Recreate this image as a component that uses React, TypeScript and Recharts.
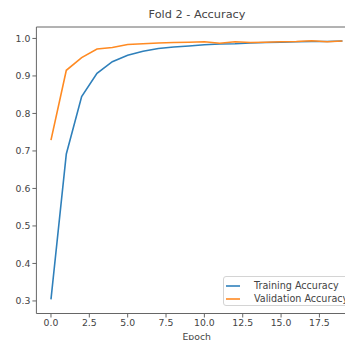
import { CartesianGrid, Legend, Line, LineChart, ReferenceLine, XAxis, YAxis } from "recharts"

const epochs = [0, 1, 2, 3, 4, 5, 6, 7, 8, 9, 10, 11, 12, 13, 14, 15, 16, 17, 18, 19]
const trainAcc = [
  0.304, 0.692, 0.845, 0.907, 0.938, 0.955, 0.966, 0.973, 0.977, 0.98, 0.983, 0.985, 0.986,
  0.988, 0.989, 0.99, 0.991, 0.992, 0.992, 0.993,
]
const valAcc = [
  0.729, 0.915, 0.949, 0.972, 0.976, 0.984, 0.986, 0.988, 0.989, 0.99, 0.991, 0.987, 0.991,
  0.989, 0.99, 0.991, 0.992, 0.994, 0.991, 0.993,
]
const xTicks = [0, 2.5, 5, 7.5, 10, 12.5, 15, 17.5]
const yTicks = [0.3, 0.4, 0.5, 0.6, 0.7, 0.8, 0.9, 1.0]

const X_MIN = -0.95
const X_MAX = 19.95
const Y_MIN = 0.2665
const Y_MAX = 1.0305

const BLUE = "#2f80bb"
const ORANGE = "#ff8a22"
const FONT = "DejaVu Sans, sans-serif"
const TEXT = "#444"
const tickStyle = { fontSize: 9.3, fill: TEXT, fontFamily: FONT }

const data = epochs.map((e, i) => ({ epoch: e, train: trainAcc[i], val: valAcc[i] }))

function LegendBox({ payload }: { payload?: Array<{ value: string; color: string }> }) {
  if (!payload) return null
  return (
    <div
      style={{
        width: 130,
        height: 30,
        boxSizing: "border-box",
        border: "1px solid #d4d4d4",
        borderRadius: 3,
        background: "rgba(255,255,255,0.85)",
        padding: "2px 0 0 2px",
        fontFamily: FONT,
        fontSize: 9.6,
        color: TEXT,
      }}
    >
      {payload.map((p) => (
        <div key={p.value} style={{ display: "flex", alignItems: "center", height: 13 }}>
          <svg width={16} height={4} style={{ marginRight: 12 }}>
            <line x1={0} y1={2} x2={14} y2={2} stroke={p.color} strokeWidth={1.6} />
          </svg>
          <span style={{ whiteSpace: "nowrap" }}>{p.value}</span>
        </div>
      ))}
    </div>
  )
}

export default function App() {
  return (
    <div
      style={{
        position: "absolute",
        left: 0,
        top: 0,
        width: 345,
        height: 340,
        overflow: "hidden",
        background: "#fff",
      }}
    >
      <div
        style={{
          position: "absolute",
          left: 0,
          width: 394,
          top: 8,
          textAlign: "center",
          fontFamily: FONT,
          fontSize: 11.3,
          color: TEXT,
        }}
      >
        Fold 2 - Accuracy
      </div>
      <LineChart width={370} height={350} data={data} margin={{ top: 27, right: 13, bottom: 0, left: 0 }}>
        <CartesianGrid stroke="none" />
        <XAxis
          dataKey="epoch"
          type="number"
          domain={[X_MIN, X_MAX]}
          ticks={xTicks}
          allowDataOverflow
          tickFormatter={(v: number) => v.toFixed(1)}
          tick={tickStyle}
          tickSize={4}
          tickMargin={2}
          height={36.5}
          stroke="#666"
          label={{ value: "Epoch", position: "insideBottom", offset: 10, style: { ...tickStyle } }}
        />
        <YAxis
          type="number"
          domain={[Y_MIN, Y_MAX]}
          ticks={yTicks}
          allowDataOverflow
          tickFormatter={(v: number) => v.toFixed(1)}
          tick={tickStyle}
          tickSize={4}
          tickMargin={2}
          width={36.4}
          stroke="#666"
        />
        <ReferenceLine y={Y_MAX} stroke="#666" strokeWidth={1} />
        <Line
          type="linear"
          dataKey="train"
          name="Training Accuracy"
          stroke={BLUE}
          strokeWidth={1.6}
          dot={false}
          isAnimationActive={false}
        />
        <Line
          type="linear"
          dataKey="val"
          name="Validation Accuracy"
          stroke={ORANGE}
          strokeWidth={1.6}
          dot={false}
          isAnimationActive={false}
        />
        <Legend
          layout="vertical"
          align="center"
          verticalAlign="middle"
          content={<LegendBox />}
          wrapperStyle={{ left: 223, top: 276, width: 130, height: 30 }}
        />
      </LineChart>
    </div>
  )
}
